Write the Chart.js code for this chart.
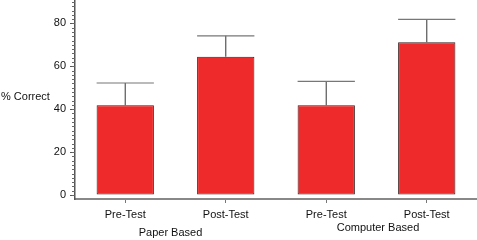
<!DOCTYPE html>
<html>
<head>
<meta charset="utf-8">
<script src="https://cdn.jsdelivr.net/npm/chart.js@4"></script>
<style>
  html, body { margin: 0; padding: 0; background: #fff; }
  #wrap { width: 477px; height: 240px; }
</style>
</head>
<body>
<div id="wrap"><canvas id="grafico"></canvas></div>
<script>
// datos
const categorias = ["Pre-Test", "Post-Test", "Pre-Test", "Post-Test"];
const grupos = ["Paper Based", "Computer Based"];
const valores = [41.8, 64.4, 41.8, 71.2];
const errores = [10.4, 9.8, 11.2, 10.7];
const yTicks = [0, 20, 40, 60, 80];
const tituloY = "% Correct";

const fuente = "'Liberation Sans', Arial, Helvetica, sans-serif";

// barras de error (solo hacia arriba)
const barrasError = {
  id: "barrasError",
  afterDatasetsDraw(chart) {
    const ctx = chart.ctx;
    const y = chart.scales.y;
    const meta = chart.getDatasetMeta(0);
    ctx.save();
    ctx.lineWidth = 1.2;
    meta.data.forEach((bar, i) => {
      const tope = y.getPixelForValue(valores[i] + errores[i]);
      ctx.strokeStyle = "#555";
      ctx.beginPath();
      ctx.moveTo(bar.x, bar.y);
      ctx.lineTo(bar.x, tope);
      ctx.stroke();
      ctx.strokeStyle = "#777";
      ctx.beginPath();
      ctx.moveTo(bar.x - bar.width / 2, tope);
      ctx.lineTo(bar.x + bar.width / 2, tope);
      ctx.stroke();
    });
    ctx.restore();
  }
};

// marcas menores del eje y, título horizontal y etiquetas de grupo
const ejes = {
  id: "ejes",
  afterDraw(chart) {
    const ctx = chart.ctx;
    const x = chart.scales.x;
    const y = chart.scales.y;
    const area = chart.chartArea;
    ctx.save();
    ctx.strokeStyle = "#666";
    ctx.lineWidth = 1;
    for (let v = 0; v <= 90; v += 2) {
      const py = Math.round(y.getPixelForValue(v)) + 0.5;
      ctx.beginPath();
      ctx.moveTo(area.left - 3, py);
      ctx.lineTo(area.left, py);
      ctx.stroke();
    }
    ctx.fillStyle = "#111";
    ctx.font = "11px " + fuente;
    ctx.textBaseline = "middle";
    ctx.textAlign = "left";
    ctx.fillText(tituloY, 1, 97);

    // en el original las dos etiquetas no están alineadas
    const ajuste = [{ dx: -5, dy: 34 }, { dx: 1.5, dy: 29 }];
    ctx.textAlign = "center";
    grupos.forEach((g, i) => {
      const cx = (x.getPixelForValue(2 * i) + x.getPixelForValue(2 * i + 1)) / 2;
      ctx.fillText(g, cx + ajuste[i].dx, area.bottom + ajuste[i].dy);
    });
    ctx.restore();
  }
};

const sinMargen = s => { s.paddingTop = 0; s.paddingBottom = 0; s.paddingLeft = 0; s.paddingRight = 0; };

new Chart(document.getElementById("grafico"), {
  type: "bar",
  data: {
    labels: categorias,
    datasets: [{
      data: valores,
      backgroundColor: "#ee2a2a",
      borderColor: "#3a1c1c",
      borderWidth: 1,
      borderSkipped: false,
      categoryPercentage: 1,
      barPercentage: 0.57
    }]
  },
  options: {
    responsive: true,
    maintainAspectRatio: false,
    animation: false,
    layout: { padding: 0 },
    plugins: {
      legend: { display: false },
      tooltip: { enabled: false }
    },
    scales: {
      x: {
        position: "bottom",
        afterFit: s => { s.height = 41; sinMargen(s); },
        grid: { drawOnChartArea: false, offset: false, tickLength: 4, color: "#777" },
        border: { color: "#888", width: 2 },
        ticks: { font: { size: 11, family: fuente }, color: "#111", padding: 5 }
      },
      y: {
        min: -1.86,
        max: 90.9,
        afterBuildTicks: s => { s.ticks = yTicks.map(v => ({ value: v })); },
        afterFit: s => { s.width = 75; sinMargen(s); },
        grid: { drawOnChartArea: false, tickLength: 5, color: "#555" },
        border: { color: "#555", width: 1.5 },
        ticks: { font: { size: 11, family: fuente }, color: "#111", padding: 4 }
      }
    }
  },
  plugins: [barrasError, ejes]
});
</script>
</body>
</html>
